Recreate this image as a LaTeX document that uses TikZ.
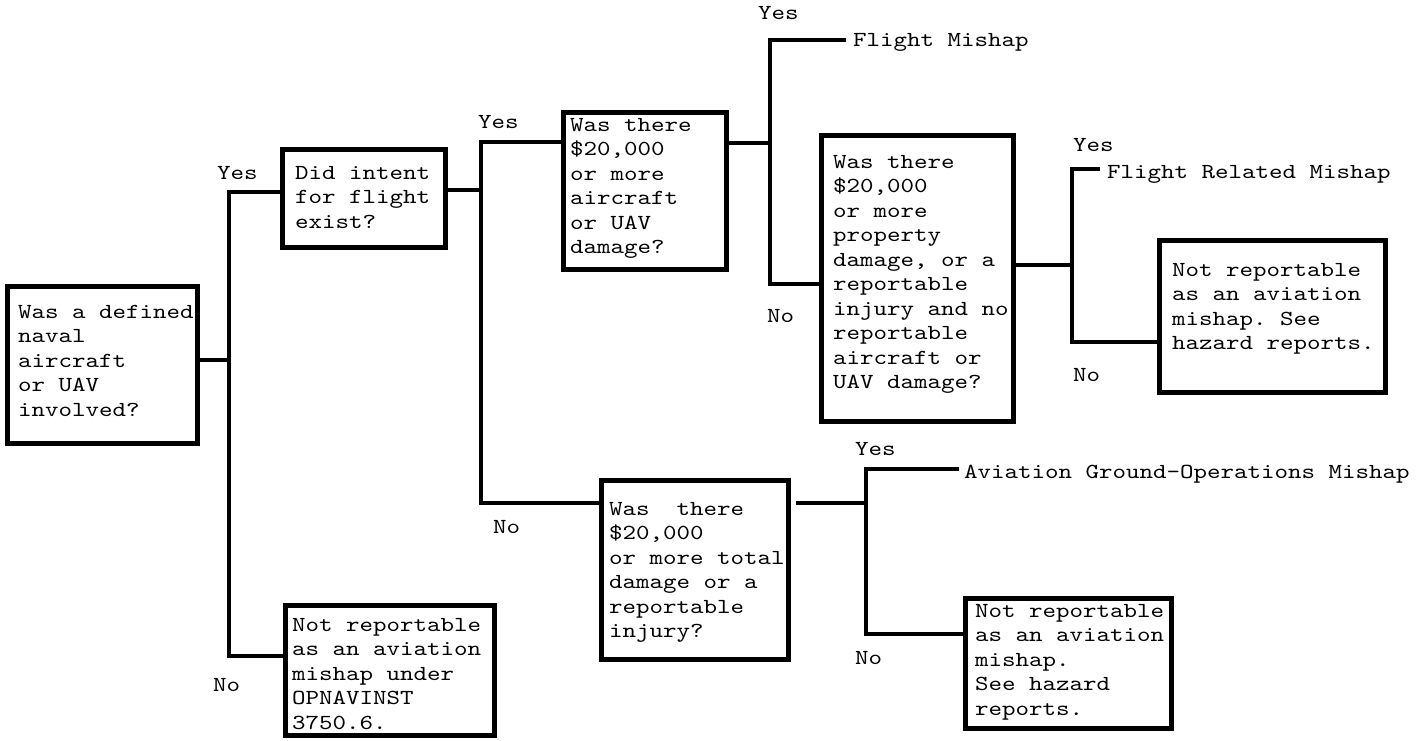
\documentclass[tikz,border=0pt]{standalone}
\usepackage{fontspec}
\newfontfamily\cour{lmmono10-regular}[Extension=.otf,FakeStretch=1.2]
\newcommand\bxt[5]{\parbox[c][#2pt][t]{#1pt}{\vspace*{#3pt}\raggedright\leftskip=#4pt\relax\strut#5}}
\tikzset{
  box/.style={draw, line width=5pt, inner sep=0pt, anchor=north west,
    font=\cour\fontsize{21.43}{24.5}\selectfont},
  lbl/.style={inner sep=0pt, anchor=base west, font=\cour\fontsize{21.43}{24.5}\selectfont},
  conn/.style={line width=3.2pt}
}
\frenchspacing
\begin{document}
\begin{tikzpicture}[x=1pt,y=-1pt]
\useasboundingbox[fill=white] (0,0) rectangle (1420,740);
% boxes
\node[box] (A) at (5,284) {\bxt{190}{157}{14.35}{10.5}{Was a defined\\naval\\aircraft\\or UAV\\involved?}};
\node[box] (B) at (280,147) {\bxt{163}{98}{12.35}{12.5}{Did intent\\for flight\\exist?}};
\node[box] (C) at (561,110) {\bxt{163}{157}{1.35}{6.5}{Was there\\\$20,000\\or more\\aircraft\\or UAV\\damage?}};
\node[box] (D) at (819,133) {\bxt{192}{286}{15.35}{11.5}{Was there\\\$20,000\\or more\\property\\damage, or a\\reportable\\injury and no\\reportable\\aircraft or\\UAV damage?}};
\node[box] (E) at (1157,238) {\bxt{226}{152}{18.35}{12.5}{Not reportable\\as an aviation\\mishap. See\\hazard reports.}};
\node[box] (F) at (599,478) {\bxt{187}{179}{17.35}{7.5}{Was\ \ there\\\$20,000\\or more total\\damage or a\\reportable\\injury?}};
\node[box] (G) at (963,596) {\bxt{206}{130}{1.35}{9.5}{Not reportable\\as an aviation\\mishap.\\See hazard\\reports.}};
\node[box] (H) at (283,603) {\bxt{209}{130}{8.35}{6.5}{Not reportable\\as an aviation\\mishap under\\OPNAVINST\\3750.6.}};
% terminal texts
\node[lbl] (FM) at (853,46) {Flight Mishap};
\node[lbl] (FRM) at (1107,178) {Flight Related Mishap};
\node[lbl] (AGM) at (964,478) {Aviation Ground-Operations Mishap};
% yes / no labels
\node[lbl] (yesA) at (217,179) {Yes};
\node[lbl] (noA) at (213,691) {No};
\node[lbl] (yesB) at (478,128) {Yes};
\node[lbl] (noB) at (493,533) {No};
\node[lbl] (yesC) at (758,19) {Yes};
\node[lbl] (noC) at (767,322) {No};
\node[lbl] (yesD) at (1073,151) {Yes};
\node[lbl] (noD) at (1073,381) {No};
\node[lbl] (yesF) at (855,455) {Yes};
\node[lbl] (noF) at (855,664) {No};
% junctions
\coordinate (jA) at (229,360); \coordinate (yA) at (229,192); \coordinate (nA) at (229,656);
\coordinate (jB) at (481,190); \coordinate (yB) at (481,142); \coordinate (nB) at (481,503);
\coordinate (jC) at (770,143); \coordinate (yC) at (770,40);  \coordinate (nC) at (770,284);
\coordinate (jD) at (1072,265); \coordinate (yD) at (1072,169); \coordinate (nD) at (1072,342);
\coordinate (jF) at (866,503); \coordinate (yF) at (866,469); \coordinate (nF) at (866,634);
% connectors
\draw[conn] (jA -| A.east) -- (jA);
\draw[conn] (B.west |- yA) -- (yA) -- (nA) -- (H.west |- nA);
\draw[conn] (jB -| B.east) -- (jB);
\draw[conn] (C.west |- yB) -- (yB) -- (nB) -- (F.west |- nB);
\draw[conn] (jC -| C.east) -- (jC);
\draw[conn,shorten <=7pt] (yC -| FM.west) -- (yC) -- (nC) -- (D.west |- nC);
\draw[conn] (jD -| D.east) -- (jD);
\draw[conn,shorten <=7pt] (yD -| FRM.west) -- (yD) -- (nD) -- (E.west |- nD);
\draw[conn,shorten <=5pt] (jF -| F.east) -- (jF);
\draw[conn,shorten <=5pt] (yF -| AGM.west) -- (yF) -- (nF) -- (G.west |- nF);
\end{tikzpicture}
\end{document}
